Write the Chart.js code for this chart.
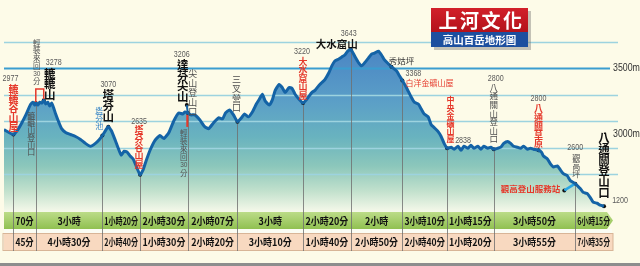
<!DOCTYPE html>
<html>
<head>
<meta charset="utf-8">
<script src="https://cdn.jsdelivr.net/npm/chart.js@4.4.0/dist/chart.umd.min.js"></script>
<style>
  html, body { margin: 0; padding: 0; background: #fdfbe8; }
  #wrap { width: 640px; height: 266px; position: relative; }
</style>
</head>
<body>
<div id="wrap"><canvas id="profile"></canvas></div>
<script>
// === trail profile (distance along route, elevation on the drawn scale) ===
const profileDist = [
  0, 5, 9.5, 14, 18, 22, 25, 27, 29, 31,
  32, 34, 36, 38, 40, 42, 44, 46, 48, 50,
  52, 55, 58, 62, 67, 72, 77, 82, 87, 92,
  96, 99, 105, 108, 112, 115, 118, 121, 124, 127,
  130, 133, 137, 140, 143, 147, 152, 157, 161, 166,
  171, 176, 180, 182, 185, 188, 192, 197, 202, 206,
  211, 216, 220, 223, 227, 231, 235, 239, 242, 246,
  250, 254, 257, 260, 263, 267, 270, 273, 277, 280,
  283, 287, 290, 293, 297, 301, 304, 307, 310, 313,
  317, 320, 323, 327, 330, 333, 337, 340, 343, 346,
  349, 353, 357, 360, 363, 367, 370, 373, 377, 380,
  383, 387, 390, 395, 398, 401, 405, 410, 413, 417,
  420, 423, 427, 430, 433, 437, 440, 443, 446, 450,
  453, 457, 460, 463, 467, 470, 473, 477, 480, 483,
  487, 490, 493, 497, 500, 503, 507, 510, 513, 517,
  520, 523, 527, 530, 533, 538, 541, 543, 547, 550,
  553, 557, 560, 563, 567, 570, 575, 578, 580, 583,
  587, 590, 593, 597, 600, 604
];
const profileElev = [
  3037, 3015, 3000, 3037, 3089, 3148, 3200, 3230, 3244, 3222,
  3237, 3222, 3244, 3237, 3259, 3230, 3244, 3215, 3237, 3200,
  3155, 3096, 3044, 3015, 3000, 2985, 2963, 2933, 2911, 2933,
  2963, 2992, 3059, 3030, 2956, 2896, 2844, 2874, 2867, 2837,
  2815, 2763, 2696, 2733, 2800, 2881, 2956, 2992, 2970, 3015,
  3104, 3163, 3155, 3170, 3163, 3148, 3148, 3111, 3059, 3044,
  3089, 3126, 3118, 3163, 3185, 3148, 3096, 3126, 3155, 3133,
  3170, 3230, 3266, 3304, 3252, 3222, 3259, 3333, 3378, 3355,
  3318, 3355, 3348, 3304, 3266, 3237, 3259, 3289, 3318, 3333,
  3370, 3392, 3415, 3466, 3518, 3555, 3570, 3585, 3600, 3629,
  3644, 3592, 3541, 3518, 3541, 3578, 3607, 3615, 3629, 3600,
  3563, 3533, 3511, 3481, 3444, 3407, 3355, 3281, 3244, 3230,
  3192, 3155, 3133, 3074, 3052, 3022, 2985, 2933, 2896, 2904,
  2889, 2911, 2881, 2911, 2896, 2918, 2896, 2911, 2889, 2911,
  2896, 2904, 2889, 2896, 2904, 2933, 2948, 2933, 2911, 2904,
  2896, 2911, 2889, 2896, 2889, 2881, 2867, 2837, 2815, 2778,
  2755, 2763, 2733, 2704, 2689, 2652, 2629, 2607, 2592, 2563,
  2555, 2526, 2489, 2481, 2467, 2459
];

// === stations ===
const stationNames = ['轆轆谷山屋', '轆轆山登山口', '轆轆山', '塔芬池', '塔芬山', '塔芬谷山屋',
  '達芬尖山', '尖山登山口', '三叉營口', '大水窟山屋', '大水窟山', '秀姑坪', '白洋金礦山屋',
  '中央金礦山屋', '八通關山登山口', '八通關草原', '觀高坪', '觀高登山服務站', '八通關登山口'];
const stationDist = [9.5, 32, 40, 99, 105, 137, 184, 185, 235, 301, 349, 390, 401, 446, 493, 538, 575, 564, 604];
const stationElev = [3000, 3237, 3259, 2992, 3059, 2696, 3222, 3163, 3096, 3237, 3644, 3511, 3407, 2896, 2889, 2881, 2629, 2578, 2459];
const stationHeight = ['2977', '', '3278', '', '3070', '2635', '3206', '', '', '3220', '3643', '', '3368', '2838', '2800', '2800', '2600', '', '1200'];

// legs between stations (index of the station where each leg begins)
const legStart = [0, 1, 3, 5, 7, 8, 9, 10, 12, 13, 14, 16];
const timeGo = ['70分', '3小時', '1小時20分', '2小時30分', '2小時07分', '3小時', '2小時20分', '2小時', '3小時10分', '1小時15分', '3小時50分', '6小時15分'];
const timeBack = ['45分', '4小時30分', '2小時40分', '1小時30分', '2小時20分', '3小時10分', '1小時40分', '2小時50分', '2小時40分', '1小時20分', '3小時55分', '7小時35分'];

// side trips (pairs of station indices)
const sideTrips = [[6, 7], [16, 17]];

// elevation axis
const axisLabels = [3000, 3500];
const gridFrom = 2500, gridTo = 3700;

// === label look ===
const RED = '#e5392b', GRAY = '#4d4d4d', BLUE = '#2b7dc2', INK = '#111';
const labelStyle = [
  { v: 1, dx: 0, dy: -50, step: 9.5, size: 10, color: RED, bold: 1, nx: -3, ny: -56 },
  { v: 1, dx: -4.5, dy: 9, step: 7.3, size: 8, color: GRAY },
  { v: 1, dx: 6, dy: -32, step: 10.5, size: 11.5, color: INK, bold: 1, nx: 10, ny: -38 },
  { v: 1, dx: -3, dy: -29, step: 7.8, size: 8, color: BLUE },
  { v: 1, dx: 0, dy: -37, step: 10.7, size: 11.5, color: INK, bold: 1, nx: 0, ny: -42 },
  { v: 1, dx: -1, dy: -49, step: 8.6, size: 9, color: RED, bold: 1, nx: -1, ny: -53 },
  { v: 1, dx: -4, dy: -46, step: 10.7, size: 11.5, color: INK, bold: 1, nx: -5, ny: -51 },
  { v: 1, dx: 5, dy: -44, step: 9.5, size: 9, color: GRAY },
  { v: 1, dx: -1, dy: -47, step: 9.5, size: 9, color: GRAY },
  { v: 1, dx: 0, dy: -46, step: 8.5, size: 9, color: RED, bold: 1, nx: -1, ny: -52 },
  { v: 0, dx: -14, dy: -5, size: 10.5, color: INK, bold: 1, nx: -2, ny: -16 },
  { v: 0, dx: 10, dy: -6, size: 8.5, color: '#333' },
  { v: 0, dx: 3, dy: 2, size: 8, color: RED, align: 'left', nx: 11, ny: -7 },
  { v: 1, dx: 3.5, dy: -52, step: 7.8, size: 8, color: RED, bold: 1, nx: 16, ny: -8 },
  { v: 1, dx: 0, dy: -66, step: 8.6, size: 8.5, color: GRAY, nx: 2, ny: -71 },
  { v: 1, dx: 0, dy: -46, step: 8.8, size: 9, color: RED, bold: 1, nx: 0, ny: -52 },
  { v: 1, dx: 1, dy: -30, step: 8, size: 8, color: GRAY, nx: 0, ny: -36 },
  { v: 0, dx: -4, dy: -2, size: 8.5, color: RED, bold: 1, align: 'right' },
  { v: 1, dx: 0, dy: -74, step: 11, size: 11.5, color: INK, bold: 1, nx: 16, ny: -6 }
];
const CJK = '"Noto Sans CJK TC"';
const LAT = '"Liberation Sans"';

function vText(c, text, cx, top, step, size, color, bold) {
  c.save();
  c.fillStyle = color;
  c.textAlign = 'center';
  c.textBaseline = 'middle';
  text.match(/\d+|./g).forEach((p, i) => {
    const y = top + step * i + step / 2;
    if (/\d/.test(p)) {
      c.font = (bold ? 'bold ' : '') + (size - 1) + 'px ' + LAT;
      const w = c.measureText(p).width;
      c.save();
      c.translate(cx, y);
      c.scale(Math.min(1, step * 0.95 / w), 1);
      c.fillText(p, 0, 0);
      c.restore();
    } else {
      c.font = (bold ? 'bold ' : '') + size + 'px ' + CJK;
      c.fillText(p, cx, y);
    }
  });
  c.restore();
}

function numText(c, s, x, y) {
  c.save();
  c.font = '9.5px ' + LAT;
  c.fillStyle = '#5a5a5a';
  c.textAlign = 'center';
  c.textBaseline = 'middle';
  c.translate(x, y);
  c.scale(0.75, 1);
  c.fillText(s, 0, 0);
  c.restore();
}

function squeezeText(c, s, x, y, maxW, sx) {
  c.save();
  c.translate(x, y);
  c.scale(sx, 1);
  c.fillText(s, 0, 0, maxW / sx);
  c.restore();
}

const trailPlugin = {
  id: 'trail',
  beforeDatasetsDraw(chart) {
    const { ctx: c, chartArea: a, scales: { x, y } } = chart;
    c.save();
    // grid lines over the fill
    y.ticks.forEach(t => {
      if (t.value % 100 || t.value < gridFrom || t.value > gridTo) return;
      const py = Math.round(y.getPixelForValue(t.value)) + 0.5;
      const major = axisLabels.includes(t.value);
      c.strokeStyle = major ? '#3a9dd0' : '#9dd3df';
      c.lineWidth = major ? 2 : 1.5;
      c.beginPath();
      c.moveTo(a.left, py);
      c.lineTo(major ? a.right - 2 : a.right + 6, py);
      c.stroke();
    });

    // time bands
    const gTop = a.bottom, gBot = a.bottom + 17, pTop = a.bottom + 21, pBot = a.bottom + 39;
    const gg = c.createLinearGradient(0, gTop, 0, gBot);
    gg.addColorStop(0, '#bcdc88');
    gg.addColorStop(1, '#90c050');
    c.fillStyle = gg;
    c.beginPath();
    c.moveTo(a.left, gTop);
    c.lineTo(a.right - 5, gTop);
    c.lineTo(a.right + 1, (gTop + gBot) / 2);
    c.lineTo(a.right - 5, gBot);
    c.lineTo(a.left, gBot);
    c.closePath();
    c.fill();
    c.fillStyle = '#fbfcf3';
    c.fillRect(a.left, gBot, a.right - a.left, pTop - gBot);
    c.fillStyle = '#f8d9c0';
    c.fillRect(a.left, pTop, a.right + 1 - a.left, pBot - pTop);
    c.strokeStyle = '#d8b597';
    c.lineWidth = 1;
    c.strokeRect(a.left - 1, pTop + 0.5, a.right + 2 - a.left, pBot - pTop - 1);

    // station drop lines
    c.strokeStyle = '#6f6f6f';
    c.lineWidth = 0.8;
    legStart.forEach(si => {
      const px = Math.round(x.getPixelForValue(stationDist[si])) + 0.5;
      c.beginPath();
      c.moveTo(px, y.getPixelForValue(stationElev[si]));
      c.lineTo(px, pBot);
      c.stroke();
    });

    // leg times
    c.fillStyle = '#111';
    c.font = 'bold 10px ' + CJK;
    c.textAlign = 'center';
    c.textBaseline = 'middle';
    legStart.forEach((si, i) => {
      const xs = x.getPixelForValue(stationDist[si]);
      const xe = i + 1 < legStart.length ? x.getPixelForValue(stationDist[legStart[i + 1]]) : a.right;
      const mid = (xs + xe) / 2, w = xe - xs - 4;
      squeezeText(c, timeGo[i], mid, (gTop + gBot) / 2 + 0.5, w, 0.9);
      squeezeText(c, timeBack[i], mid, (pTop + pBot) / 2 + 0.5, w, 0.9);
    });
    c.restore();
  },
  afterDatasetsDraw(chart) {
    const { ctx: c, scales: { x, y } } = chart;
    const P = i => [x.getPixelForValue(stationDist[i]), y.getPixelForValue(stationElev[i])];
    c.save();

    // red bracket for the 轆轆山 side trip and red bar under 達芬尖山
    const [bx, by] = P(1), [cx2] = P(2);
    c.strokeStyle = RED;
    c.lineWidth = 1.5;
    c.beginPath();
    c.moveTo(bx, by - 1);
    c.lineTo(bx, by - 14);
    c.lineTo(cx2, by - 14);
    c.lineTo(cx2, by - 4);
    c.stroke();
    const [gx, gy] = P(7);
    c.fillStyle = RED;
    c.fillRect(gx - 1.5, gy + 2, 2, 12);

    // notes
    vText(c, '輕裝來回30分', bx + 1, by - 64, 7.7, 7.5, '#555', 0);
    vText(c, '輕裝來回30分', gx - 4, gy + 16, 8, 7.5, '#555', 0);

    // station labels
    stationNames.forEach((name, i) => {
      const s = labelStyle[i];
      const [px, py] = P(i);
      if (s.v) {
        vText(c, name, px + s.dx, py + s.dy, s.step, s.size, s.color, s.bold);
      } else {
        c.save();
        c.fillStyle = s.color;
        c.font = (s.bold ? 'bold ' : '') + s.size + 'px ' + CJK;
        c.textAlign = s.align || 'center';
        c.textBaseline = 'middle';
        c.fillText(name, px + s.dx, py + s.dy);
        c.restore();
      }
      if (stationHeight[i]) numText(c, stationHeight[i], px + s.nx, py + s.ny);
    });
    c.restore();
  },
  afterDraw(chart) {
    const { ctx: c, chartArea: a, scales: { y } } = chart;
    c.save();
    // elevation labels on the right
    c.fillStyle = '#333';
    c.font = '10px ' + LAT;
    c.textAlign = 'left';
    c.textBaseline = 'middle';
    axisLabels.forEach(v => {
      c.save();
      c.translate(a.right + 1, y.getPixelForValue(v));
      c.scale(0.88, 1);
      c.fillText(v + 'm', 0, 0);
      c.restore();
    });

    // publisher box
    c.fillStyle = 'rgba(90,90,90,0.35)';
    c.fillRect(434, 11, 97, 39);
    const rg = c.createLinearGradient(0, 8, 0, 32);
    rg.addColorStop(0, '#d2202a');
    rg.addColorStop(1, '#b3121b');
    c.fillStyle = rg;
    c.fillRect(431, 8, 97, 24);
    c.fillStyle = '#1d4f9f';
    c.fillRect(431, 32, 97, 15);
    c.fillStyle = '#fff';
    c.textBaseline = 'middle';
    c.textAlign = 'center';
    c.font = 'bold 19px ' + CJK;
    ['上', '河', '文', '化'].forEach((ch, i) => c.fillText(ch, 448 + i * 21.5, 20.5));
    c.font = 'bold 10.5px ' + CJK;
    c.fillText('高山百岳地形圖', 479.5, 40);

    // bottom rule
    c.fillStyle = '#8d8d8d';
    c.fillRect(0, 263, 640, 3);
    c.restore();
  }
};

const profilePoints = profileDist.map((d, i) => ({ x: d, y: profileElev[i] }));
const stationPoints = stationDist.map((d, i) => ({ x: d, y: stationElev[i] }));
const sideSets = sideTrips.map((pair, k) => ({
  data: pair.map(i => ({ x: stationDist[i], y: stationElev[i] })),
  borderColor: k === 0 ? '#1463a6' : '#2aa6e3',
  borderWidth: k === 0 ? 2 : 2.5,
  pointRadius: 0,
  fill: false
}));

new Chart(document.getElementById('profile'), {
  type: 'line',
  data: {
    datasets: [
      {
        data: profilePoints,
        borderColor: '#1463a6',
        borderWidth: 3,
        borderJoinStyle: 'round',
        tension: 0.15,
        pointRadius: 0,
        fill: 'start',
        backgroundColor: (ctx) => {
          const area = ctx.chart.chartArea;
          if (!area) return 'rgba(90,160,190,0.8)';
          const g = ctx.chart.ctx.createLinearGradient(0, area.top, 0, area.bottom);
          g.addColorStop(0.2, '#4984c4');
          g.addColorStop(0.47, '#5b9fc7');
          g.addColorStop(0.64, '#69b3bf');
          g.addColorStop(0.78, '#8cc7bb');
          g.addColorStop(0.9, '#c2e1cd');
          g.addColorStop(1, '#f6f9ea');
          return g;
        }
      },
      ...sideSets,
      {
        data: stationPoints,
        showLine: false,
        pointRadius: 2,
        pointBackgroundColor: '#111',
        pointBorderWidth: 0
      }
    ]
  },
  options: {
    responsive: true,
    maintainAspectRatio: false,
    animation: false,
    layout: { padding: { left: 0, right: 28, top: 0, bottom: 54 } },
    scales: {
      x: { type: 'linear', display: false, min: 0, max: 612 },
      y: { display: false, min: 2415, max: 3985, ticks: { stepSize: 100 } }
    },
    plugins: {
      legend: { display: false },
      tooltip: { enabled: false },
      filler: { drawTime: 'beforeDraw' }
    }
  },
  plugins: [trailPlugin]
});
</script>
</body>
</html>
